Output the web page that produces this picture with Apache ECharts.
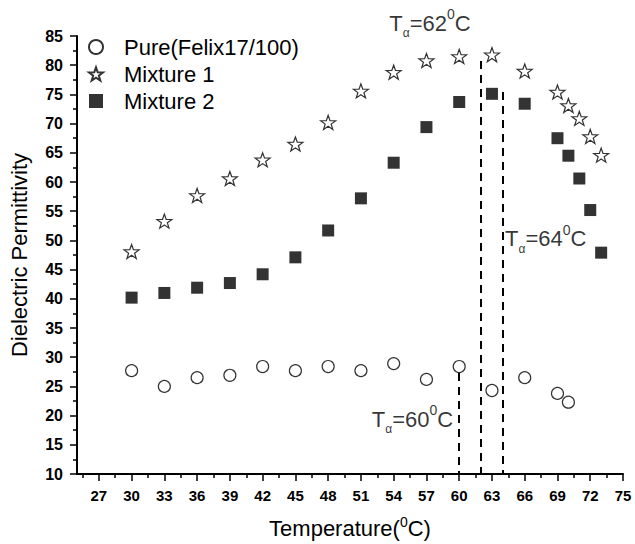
<!DOCTYPE html>
<html>
<head>
<meta charset="utf-8">
<script src="https://cdn.jsdelivr.net/npm/echarts@6/dist/echarts.min.js"></script>
<style>
  html, body { margin: 0; padding: 0; background: #fff; }
  #chart { width: 635px; height: 544px; }
</style>
</head>
<body>
<div id="chart"></div>
<script>
// Temperatures (°C) at which permittivity was measured
const tempMain = [30, 33, 36, 39, 42, 45, 48, 51, 54, 57, 60, 63, 66, 69, 70];
const tempMix = [30, 33, 36, 39, 42, 45, 48, 51, 54, 57, 60, 63, 66, 69, 70, 71, 72, 73];

// Dielectric permittivity values
const purePerm = [27.7, 25.0, 26.5, 26.9, 28.4, 27.7, 28.4, 27.7, 28.9, 26.2, 28.4, 24.3, 26.5, 23.8, 22.3];
const mix1Perm = [48.1, 53.3, 57.7, 60.6, 63.8, 66.5, 70.2, 75.6, 78.8, 80.8, 81.5, 81.8, 79.0, 75.4, 73.1, 70.9, 67.8, 64.6];
const mix2Perm = [40.2, 41.0, 41.9, 42.7, 44.2, 47.1, 51.7, 57.2, 63.3, 69.4, 73.7, 75.1, 73.4, 67.5, 64.5, 60.6, 55.2, 47.9];

const seriesNames = ['Pure(Felix17/100)', 'Mixture 1', 'Mixture 2'];

// Transition temperatures Tα and the permittivity where each guide line begins
const transitionTemps = [60, 62, 64];
const guideTops = [27.3, 80.7, 75.4];

// Axis tick values
const xMajorTicks = [27, 30, 33, 36, 39, 42, 45, 48, 51, 54, 57, 60, 63, 66, 69, 72, 75];
const xMinorTicks = [25.5, 28.5, 31.5, 34.5, 37.5, 40.5, 43.5, 46.5, 49.5, 52.5, 55.5, 58.5, 61.5, 64.5, 67.5, 70.5, 73.5];

const zip = (xs, ys) => xs.map((x, i) => [x, ys[i]]);

const FONT = '"Liberation Sans", Arial, Helvetica, sans-serif';
const STAR = 'path://M50 0 L61.76 33.82 L97.55 34.55 L69.02 56.18 L79.39 90.45 L50 70 L20.61 90.45 L30.98 56.18 L2.45 34.55 L38.24 33.82 Z';

// Rich text pieces for "Tα=xx⁰C"
const richT = {
  m: { fontSize: 22, fontFamily: FONT, color: '#000', lineHeight: 32 },
  sub: { fontSize: 12, fontFamily: FONT, color: '#000', lineHeight: 12, verticalAlign: 'bottom' },
  sup: { fontSize: 14, fontFamily: FONT, color: '#000', lineHeight: 24, verticalAlign: 'top' }
};

// Label anchors (left edge, vertical centre) in data coordinates
const labelAnchors = [[52.0, 19.4], [53.6, 87.2], [64.2, 50.3]];

// Vertical dashed guides at each transition temperature, plus their labels
const transitionSeries = {
  type: 'scatter',
  name: 'transitions',
  symbolSize: 0,
  clip: false,
  silent: true,
  data: transitionTemps.map((t, i) => ({ value: labelAnchors[i], temp: t })),
  label: {
    show: true,
    position: 'right',
    distance: 0,
    formatter: p => '{m|T}{sub|α}{m|=' + p.data.temp + '}{sup|0}{m|C}',
    rich: richT
  },
  markLine: {
    silent: true,
    symbol: ['none', 'none'],
    label: { show: false },
    lineStyle: { color: '#000', width: 2, type: [8, 6], opacity: 1 },
    emphasis: { disabled: true },
    data: transitionTemps.map((t, i) => [{ coord: [t, guideTops[i]] }, { coord: [t, 10] }])
  },
  z: 1
};

const axisBlack = { color: '#000', width: 2 };

const option = {
  animation: false,
  backgroundColor: '#fff',
  grid: { left: 77, right: 12, top: 36, bottom: 63 },
  legend: {
    orient: 'vertical',
    left: 83,
    top: 31,
    itemWidth: 14,
    itemHeight: 14,
    itemGap: 5,
    textStyle: { fontSize: 22, fontFamily: FONT, color: '#000', padding: [0, 0, 0, 16] },
    data: [
      { name: seriesNames[0], icon: 'circle' },
      { name: seriesNames[1], icon: STAR },
      { name: seriesNames[2], icon: 'rect' }
    ]
  },
  xAxis: [
    {
      type: 'value',
      min: 25,
      max: 75,
      name: '{a|Temperature(}{s|0}{a|C)}',
      nameLocation: 'middle',
      nameGap: 41,
      nameTextStyle: {
        rich: {
          a: { fontSize: 22, fontFamily: FONT, color: '#000', lineHeight: 26 },
          s: { fontSize: 14, fontFamily: FONT, color: '#000', lineHeight: 20, verticalAlign: 'top' }
        }
      },
      splitLine: { show: false },
      axisLine: { lineStyle: axisBlack },
      axisTick: { customValues: xMajorTicks, length: 7, lineStyle: { color: '#000', width: 1.5 } },
      axisLabel: {
        customValues: xMajorTicks,
        margin: 14,
        fontSize: 15,
        fontWeight: 'bold',
        fontFamily: FONT,
        color: '#000'
      }
    },
    {
      type: 'value',
      min: 25,
      max: 75,
      position: 'bottom',
      splitLine: { show: false },
      axisLine: { show: false },
      axisTick: { customValues: xMinorTicks, length: 4, lineStyle: { color: '#000', width: 1.5 } },
      axisLabel: { show: false }
    }
  ],
  yAxis: {
    type: 'value',
    min: 10,
    max: 85,
    interval: 5,
    name: 'Dielectric Permittivity',
    nameLocation: 'middle',
    nameGap: 47,
    nameTextStyle: { fontSize: 22, fontFamily: FONT, color: '#000' },
    splitLine: { show: false },
    axisLine: { show: true, lineStyle: axisBlack },
    axisTick: { show: true, length: 7, lineStyle: { color: '#000', width: 1.5 } },
    minorTick: { show: true, splitNumber: 2, length: 4, lineStyle: { color: '#000', width: 1.5 } },
    axisLabel: { margin: 14, fontSize: 16, fontWeight: 'bold', fontFamily: FONT, color: '#000' }
  },
  series: [
    transitionSeries,
    {
      type: 'scatter',
      name: seriesNames[0],
      data: zip(tempMain, purePerm),
      symbol: 'circle',
      symbolSize: 12,
      itemStyle: { color: '#fff', borderColor: '#000', borderWidth: 1.2 },
      z: 3
    },
    {
      type: 'scatter',
      name: seriesNames[1],
      data: zip(tempMix, mix1Perm),
      symbol: STAR,
      symbolSize: [15, 14],
      itemStyle: { color: '#fff', borderColor: '#000', borderWidth: 1.2 },
      z: 3
    },
    {
      type: 'scatter',
      name: seriesNames[2],
      data: zip(tempMix, mix2Perm),
      symbol: 'rect',
      symbolSize: 12,
      itemStyle: { color: '#000' },
      z: 3
    }
  ]
};

const chart = echarts.init(document.getElementById('chart'), null, { renderer: 'svg' });
chart.setOption(option);
</script>
</body>
</html>
